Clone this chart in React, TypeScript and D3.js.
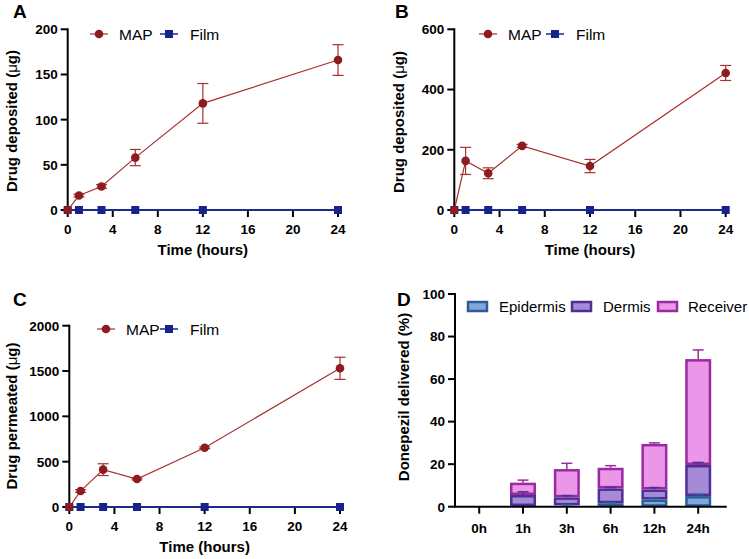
import React from 'react';
import * as d3 from 'd3';

// ---------- data ----------
const times = [0, 1, 3, 6, 12, 24];
const xTicks = [0, 4, 8, 12, 16, 20, 24];

const mapDepositedA = [0, 16, 26, 58, 118, 166];
const mapDepositedAErr = [0, 1.5, 2, 9, 22, 17];
const filmDepositedA = [0, 0, 0, 0, 0, 0];

const mapDepositedB = [0, 163, 122, 213, 146, 455];
const mapDepositedBErr = [0, 45, 18, 5, 22, 25];
const filmDepositedB = [0, 0, 0, 0, 0, 0];

const mapPermeatedC = [0, 176, 412, 309, 654, 1530];
const mapPermeatedCErr = [0, 15, 65, 10, 10, 122];
const filmPermeatedC = [0, 0, 0, 0, 0, 0];

const yTicksA = [0, 50, 100, 150, 200];
const yTicksB = [0, 200, 400, 600];
const yTicksC = [0, 500, 1000, 1500, 2000];

const categoriesD = ['0h', '1h', '3h', '6h', '12h', '24h'];
const epidermis = [0, 0.3, 0.6, 1.6, 3.4, 5.0];
const dermis = [0, 5.2, 3.8, 7.0, 4.7, 14.6];
const receiver = [0, 5.8, 13.3, 9.7, 21.4, 49.8];
const epidermisErr = [0, 0, 0.3, 0.3, 0.8, 0.8];
const dermisErr = [0, 1.5, 0.8, 0.4, 0.9, 1.2];
const receiverErr = [0, 1.2, 2.7, 1.0, 0.5, 4.3];
const yTicksD = [0, 20, 40, 60, 80, 100];

// ---------- styles ----------
const FONT = "'Liberation Sans', Arial, Helvetica, sans-serif";
const MAP_LINE = '#a8302f';
const MAP_MARK = '#8c1c1f';
const FILM_LINE = '#1c2a8c';
const FILM_MARK = '#17238a';
const TICK_FS = 13.5;
const TITLE_FS = 15;
const LEG_FS = 15.5;

const stackColors = [
  { fill: '#80a6da', stroke: '#2d5d98' },
  { fill: '#a58bd5', stroke: '#4e2f95' },
  { fill: '#eb96e8', stroke: '#9a2aa0' },
];
const seriesNames = ['Epidermis', 'Dermis', 'Receiver'];

type LineProps = {
  letter: string; letterX: number; letterY: number;
  x0: number; x1: number; yTop: number; yBottom: number; yMax: number;
  yTicks: number[]; mapVals: number[]; mapErr: number[]; filmVals: number[];
  yTitle: string; yTitleX: number; yTitleCY: number;
  legY: number; mapLegX: number; filmLegX: number;
};

function LinePanel(p: LineProps) {
  const x = d3.scaleLinear().domain([0, 24]).range([p.x0, p.x1]);
  const y = d3.scaleLinear().domain([0, p.yMax]).range([p.yBottom, p.yTop]);
  const line = d3.line<number>().x((_, i) => x(times[i])).y((d) => y(d));
  const cap = 5.5;
  const muIdx = p.yTitle.indexOf('(');
  return (
    <g fontFamily={FONT}>
      <text x={p.letterX} y={p.letterY} fontSize={19} fontWeight="bold">{p.letter}</text>
      {/* axes */}
      <line x1={p.x0} x2={p.x0} y1={p.yTop - 1} y2={p.yBottom} stroke="#000" strokeWidth={2} />
      <line x1={p.x0 - 1} x2={p.x1 + 1} y1={p.yBottom} y2={p.yBottom} stroke="#000" strokeWidth={2} />
      {p.yTicks.map((t) => (
        <g key={'y' + t}>
          <line x1={p.x0 - 7} x2={p.x0} y1={y(t)} y2={y(t)} stroke="#000" strokeWidth={2} />
          <text x={p.x0 - 10} y={y(t)} dy="0.36em" textAnchor="end" fontSize={TICK_FS} fontWeight="bold">{t}</text>
        </g>
      ))}
      {xTicks.map((t) => (
        <g key={'x' + t}>
          <line x1={x(t)} x2={x(t)} y1={p.yBottom} y2={p.yBottom + 7} stroke="#000" strokeWidth={2} />
          <text x={x(t)} y={p.yBottom + 24} textAnchor="middle" fontSize={TICK_FS} fontWeight="bold">{t}</text>
        </g>
      ))}
      <text x={(p.x0 + p.x1) / 2} y={p.yBottom + 45} textAnchor="middle" fontSize={TITLE_FS} fontWeight="bold">Time (hours)</text>
      <text transform={`translate(${p.yTitleX},${p.yTitleCY}) rotate(-90)`} textAnchor="middle" fontSize={TITLE_FS} fontWeight="bold">
        {p.yTitle.slice(0, muIdx)}(<tspan fontWeight="normal">μ</tspan>g)
      </text>
      {/* film series */}
      <path d={line(p.filmVals) || ''} fill="none" stroke={FILM_LINE} strokeWidth={1.8} />
      {p.filmVals.map((v, i) => (
        <rect key={'f' + i} x={x(times[i]) - 4} y={y(v) - 4} width={8} height={8} fill={FILM_MARK} />
      ))}
      {/* MAP series */}
      {p.mapVals.map((v, i) => p.mapErr[i] > 0 ? (
        <g key={'e' + i} stroke={MAP_LINE} strokeWidth={1.2}>
          <line x1={x(times[i])} x2={x(times[i])} y1={y(v + p.mapErr[i])} y2={y(v - p.mapErr[i])} />
          <line x1={x(times[i]) - cap} x2={x(times[i]) + cap} y1={y(v + p.mapErr[i])} y2={y(v + p.mapErr[i])} />
          <line x1={x(times[i]) - cap} x2={x(times[i]) + cap} y1={y(v - p.mapErr[i])} y2={y(v - p.mapErr[i])} />
        </g>
      ) : null)}
      <path d={line(p.mapVals) || ''} fill="none" stroke={MAP_LINE} strokeWidth={1.2} />
      {p.mapVals.map((v, i) => (
        <circle key={'m' + i} cx={x(times[i])} cy={y(v)} r={4.3} fill={MAP_MARK} />
      ))}
      {/* legend */}
      <line x1={p.mapLegX - 9} x2={p.mapLegX + 9} y1={p.legY} y2={p.legY} stroke={MAP_LINE} strokeWidth={1.2} />
      <circle cx={p.mapLegX} cy={p.legY} r={4.3} fill={MAP_MARK} />
      <text x={p.mapLegX + 20} y={p.legY + 5.5} fontSize={LEG_FS}>MAP</text>
      <line x1={p.filmLegX - 9} x2={p.filmLegX + 9} y1={p.legY} y2={p.legY} stroke={FILM_LINE} strokeWidth={1.5} />
      <rect x={p.filmLegX - 4} y={p.legY - 4} width={8} height={8} fill={FILM_MARK} />
      <text x={p.filmLegX + 21} y={p.legY + 5.5} fontSize={LEG_FS}>Film</text>
    </g>
  );
}

function BarPanel() {
  const x0 = 455, x1 = 726.7, yTop = 294, yBottom = 506.7;
  const x = d3.scaleBand<string>().domain(categoriesD).range([x0, x1])
    .paddingInner(0.406).paddingOuter(0.305).align(0.42);
  const y = d3.scaleLinear().domain([0, 100]).range([yBottom, yTop]);
  const rows = categoriesD.map((c, i) => ({ cat: c, Epidermis: epidermis[i], Dermis: dermis[i], Receiver: receiver[i] }));
  const stack = d3.stack<any>().keys(seriesNames)(rows);
  const errs = [epidermisErr, dermisErr, receiverErr];
  const bw = x.bandwidth();
  const sw = 2.5;
  const legendX = [468, 572, 658];
  const legendTextX = [499, 603, 688];
  return (
    <g fontFamily={FONT}>
      <text x={397} y={306} fontSize={19} fontWeight="bold">D</text>
      {stack.map((s, si) => (
        <g key={s.key}>
          {s.map((d, i) => {
            if (d[1] - d[0] <= 0) return null;
            const cx = (x(categoriesD[i]) as number);
            return (
              <rect key={i} x={cx + sw / 2} y={y(d[1]) + sw / 2} width={bw - sw}
                height={Math.max(0, y(d[0]) - y(d[1]) - sw)}
                fill={stackColors[si].fill} stroke={stackColors[si].stroke} strokeWidth={sw} />
            );
          })}
        </g>
      ))}
      {stack.map((s, si) => (
        <g key={'err' + s.key} stroke={stackColors[si].stroke} strokeWidth={1.5}>
          {s.map((d, i) => {
            const e = errs[si][i];
            if (e <= 0 || d[1] - d[0] <= 0) return null;
            const cx = (x(categoriesD[i]) as number) + bw / 2;
            return (
              <g key={i}>
                <line x1={cx} x2={cx} y1={y(d[1])} y2={y(d[1] + e)} />
                <line x1={cx - 5.5} x2={cx + 5.5} y1={y(d[1] + e)} y2={y(d[1] + e)} />
              </g>
            );
          })}
        </g>
      ))}
      {/* axes */}
      <line x1={x0} x2={x0} y1={yTop - 1} y2={yBottom} stroke="#000" strokeWidth={2} />
      <line x1={x0 - 1} x2={x1} y1={yBottom} y2={yBottom} stroke="#000" strokeWidth={2} />
      {yTicksD.map((t) => (
        <g key={'y' + t}>
          <line x1={x0 - 7} x2={x0} y1={y(t)} y2={y(t)} stroke="#000" strokeWidth={2} />
          <text x={x0 - 10} y={y(t)} dy="0.36em" textAnchor="end" fontSize={TICK_FS} fontWeight="bold">{t}</text>
        </g>
      ))}
      {categoriesD.map((c) => {
        const cx = (x(c) as number) + bw / 2;
        return (
          <g key={c}>
            <line x1={cx} x2={cx} y1={yBottom} y2={yBottom + 7} stroke="#000" strokeWidth={2} />
            <text x={cx} y={yBottom + 26} textAnchor="middle" fontSize={TICK_FS} fontWeight="bold">{c}</text>
          </g>
        );
      })}
      <text transform={`translate(409,397) rotate(-90)`} textAnchor="middle" fontSize={TITLE_FS} fontWeight="bold">Donepezil delivered (%)</text>
      {seriesNames.map((n, i) => (
        <g key={n}>
          <rect x={legendX[i]} y={302} width={19} height={9} fill={stackColors[i].fill} stroke={stackColors[i].stroke} strokeWidth={2.5} />
          <text x={legendTextX[i]} y={311.5} fontSize={15}>{n}</text>
        </g>
      ))}
    </g>
  );
}

export default function App() {
  return (
    <svg width={749} height={559} style={{ position: 'absolute', left: 0, top: 0, background: '#fff' }}>
      <rect width={749} height={559} fill="#fff" />
      <LinePanel letter="A" letterX={13} letterY={18} x0={67.7} x1={338} yTop={29.3} yBottom={210} yMax={200}
        yTicks={yTicksA} mapVals={mapDepositedA} mapErr={mapDepositedAErr} filmVals={filmDepositedA}
        yTitle="Drug deposited (μg)" yTitleX={17} yTitleCY={121} legY={34} mapLegX={99} filmLegX={169} />
      <LinePanel letter="B" letterX={395} letterY={18} x0={454.3} x1={725.7} yTop={29.3} yBottom={210} yMax={600}
        yTicks={yTicksB} mapVals={mapDepositedB} mapErr={mapDepositedBErr} filmVals={filmDepositedB}
        yTitle="Drug deposited (μg)" yTitleX={404} yTitleCY={122} legY={34} mapLegX={488} filmLegX={555} />
      <LinePanel letter="C" letterX={13} letterY={306} x0={69.3} x1={340} yTop={325.7} yBottom={507} yMax={2000}
        yTicks={yTicksC} mapVals={mapPermeatedC} mapErr={mapPermeatedCErr} filmVals={filmPermeatedC}
        yTitle="Drug permeated (μg)" yTitleX={17} yTitleCY={416} legY={329} mapLegX={106} filmLegX={169} />
      <BarPanel />
    </svg>
  );
}
